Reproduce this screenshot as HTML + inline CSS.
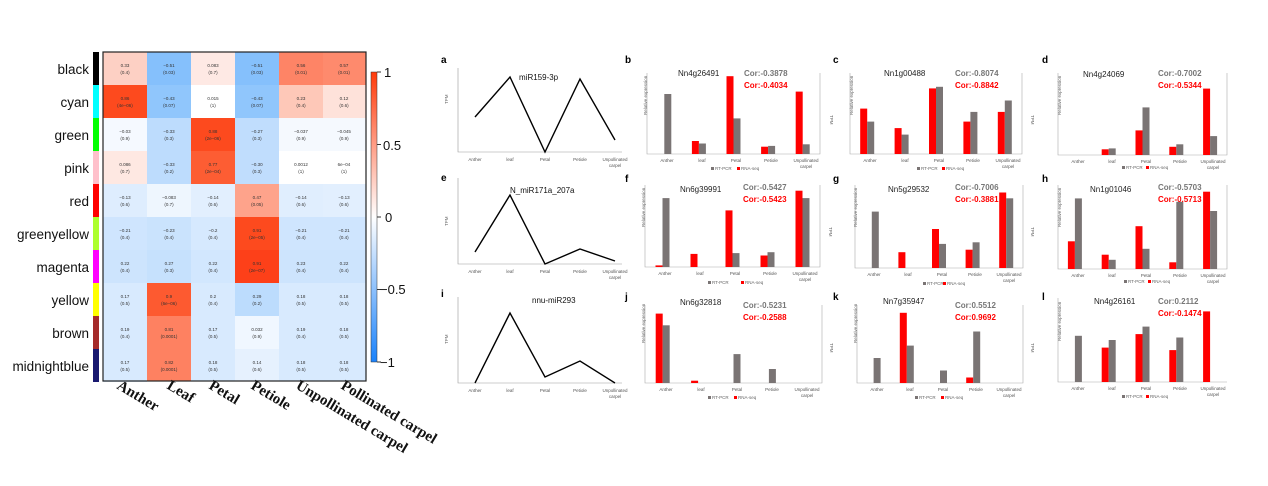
<!DOCTYPE html>
<html><head><meta charset="utf-8"><style>
body{margin:0;background:#fff}
svg{display:block;font-family:"Liberation Sans",sans-serif}
.t{font-size:4.5px;fill:#333;text-anchor:middle}
.tk{font-size:4.5px;fill:#666}
.gn{font-size:8px;fill:#222}
.cg{font-size:8px;fill:#777;font-weight:bold}
.cr{font-size:8px;fill:#f00;font-weight:bold}
.pl{font-size:10px;font-weight:bold}
.xl{font-size:4.5px;fill:#555;text-anchor:middle}
.R{fill:#ff0000}.G{fill:#7a7474}
.rl{font-size:13.5px;text-anchor:end;fill:#111}
.hx{font-family:"Liberation Serif",serif;font-weight:bold;font-size:15px;fill:#111}
</style></head><body>
<svg width="1268" height="486" viewBox="0 0 1268 486">
<defs><linearGradient id="cb" x1="0" y1="0" x2="0" y2="1">
<stop offset="0" stop-color="#ff3a0a"/><stop offset="0.5" stop-color="#ffffff"/><stop offset="1" stop-color="#1a82fb"/></linearGradient></defs>
<rect x="93" y="52" width="6" height="33" fill="#000"/>
<rect x="93" y="85" width="6" height="33" fill="#0ff"/>
<rect x="93" y="118" width="6" height="33" fill="#0f0"/>
<rect x="93" y="151" width="6" height="33" fill="#ffc0cb"/>
<rect x="93" y="184" width="6" height="33" fill="#f00"/>
<rect x="93" y="217" width="6" height="33" fill="#adff2f"/>
<rect x="93" y="250" width="6" height="33" fill="#f0f"/>
<rect x="93" y="283" width="6" height="33" fill="#ff0"/>
<rect x="93" y="316" width="6" height="33" fill="#a52a2a"/>
<rect x="93" y="349" width="6" height="33" fill="#191970"/>
<g class="rl">
<text x="89" y="74">black</text><text x="89" y="107">cyan</text><text x="89" y="140">green</text><text x="89" y="173">pink</text><text x="89" y="206">red</text><text x="89" y="239">greenyellow</text><text x="89" y="272">magenta</text><text x="89" y="305">yellow</text><text x="89" y="338">brown</text><text x="89" y="371">midnightblue</text>
</g>
<g>
<rect x="103" y="52" width="44" height="33" fill="#fdd0c4"/><rect x="147" y="52" width="44" height="33" fill="#85c0fc"/><rect x="191" y="52" width="44" height="33" fill="#fee9e4"/><rect x="235" y="52" width="44" height="33" fill="#85c0fc"/><rect x="279" y="52" width="44" height="33" fill="#fe8466"/><rect x="323" y="52" width="43" height="33" fill="#fe8a6d"/>
<rect x="103" y="85" width="44" height="33" fill="#fd4a1e"/><rect x="147" y="85" width="44" height="33" fill="#90c6fc"/><rect x="191" y="85" width="44" height="33" fill="#ffffff"/><rect x="235" y="85" width="44" height="33" fill="#90c6fc"/><rect x="279" y="85" width="44" height="33" fill="#fec8b8"/><rect x="323" y="85" width="43" height="33" fill="#fee2da"/>
<rect x="103" y="118" width="44" height="33" fill="#f5f9ff"/><rect x="147" y="118" width="44" height="33" fill="#bddcfd"/><rect x="191" y="118" width="44" height="33" fill="#fd4a1e"/><rect x="235" y="118" width="44" height="33" fill="#c0ddfd"/><rect x="279" y="118" width="44" height="33" fill="#f5f9fe"/><rect x="323" y="118" width="43" height="33" fill="#f5f9fe"/>
<rect x="103" y="151" width="44" height="33" fill="#fee8e2"/><rect x="147" y="151" width="44" height="33" fill="#bddcfd"/><rect x="191" y="151" width="44" height="33" fill="#fd5d33"/><rect x="235" y="151" width="44" height="33" fill="#c0ddfd"/><rect x="279" y="151" width="44" height="33" fill="#fff"/><rect x="323" y="151" width="43" height="33" fill="#fff"/>
<rect x="103" y="184" width="44" height="33" fill="#deedfe"/><rect x="147" y="184" width="44" height="33" fill="#eef6fe"/><rect x="191" y="184" width="44" height="33" fill="#e2effe"/><rect x="235" y="184" width="44" height="33" fill="#fea38b"/><rect x="279" y="184" width="44" height="33" fill="#e0eefe"/><rect x="323" y="184" width="43" height="33" fill="#e2effe"/>
<rect x="103" y="217" width="44" height="33" fill="#cfe5fe"/><rect x="147" y="217" width="44" height="33" fill="#cae3fd"/><rect x="191" y="217" width="44" height="33" fill="#d6e9fe"/><rect x="235" y="217" width="44" height="33" fill="#fd4a1e"/><rect x="279" y="217" width="44" height="33" fill="#cfe5fe"/><rect x="323" y="217" width="43" height="33" fill="#cfe5fe"/>
<rect x="103" y="250" width="44" height="33" fill="#cde4fd"/><rect x="147" y="250" width="44" height="33" fill="#c6e1fd"/><rect x="191" y="250" width="44" height="33" fill="#d2e7fe"/><rect x="235" y="250" width="44" height="33" fill="#fd4019"/><rect x="279" y="250" width="44" height="33" fill="#cde4fd"/><rect x="323" y="250" width="43" height="33" fill="#cde4fd"/>
<rect x="103" y="283" width="44" height="33" fill="#d8eafe"/><rect x="147" y="283" width="44" height="33" fill="#fd5a30"/><rect x="191" y="283" width="44" height="33" fill="#d8eafe"/><rect x="235" y="283" width="44" height="33" fill="#bcdcfd"/><rect x="279" y="283" width="44" height="33" fill="#d8eafe"/><rect x="323" y="283" width="43" height="33" fill="#d8eafe"/>
<rect x="103" y="316" width="44" height="33" fill="#d8eafe"/><rect x="147" y="316" width="44" height="33" fill="#fe8161"/><rect x="191" y="316" width="44" height="33" fill="#d8eafe"/><rect x="235" y="316" width="44" height="33" fill="#f0f7ff"/><rect x="279" y="316" width="44" height="33" fill="#d8eafe"/><rect x="323" y="316" width="43" height="33" fill="#d8eafe"/>
<rect x="103" y="349" width="44" height="33" fill="#d8eafe"/><rect x="147" y="349" width="44" height="32" fill="#fe8161"/><rect x="191" y="349" width="44" height="32" fill="#d8eafe"/><rect x="235" y="349" width="44" height="32" fill="#e6f1fe"/><rect x="279" y="349" width="44" height="32" fill="#d8eafe"/><rect x="323" y="349" width="43" height="32" fill="#d8eafe"/>
</g>
<rect x="103" y="52" width="263" height="329" fill="none" stroke="#222" stroke-width="1.2"/>
<g class="t">
<text x="125" y="67">0.33</text><text x="125" y="74">(0.4)</text><text x="169" y="67">−0.51</text><text x="169" y="74">(0.03)</text><text x="213" y="67">0.083</text><text x="213" y="74">(0.7)</text><text x="257" y="67">−0.51</text><text x="257" y="74">(0.03)</text><text x="301" y="67">0.56</text><text x="301" y="74">(0.01)</text><text x="344" y="67">0.57</text><text x="344" y="74">(0.01)</text>
<text x="125" y="100">0.86</text><text x="125" y="107">(4e−06)</text><text x="169" y="100">−0.43</text><text x="169" y="107">(0.07)</text><text x="213" y="100">0.015</text><text x="213" y="107">(1)</text><text x="257" y="100">−0.43</text><text x="257" y="107">(0.07)</text><text x="301" y="100">0.23</text><text x="301" y="107">(0.4)</text><text x="344" y="100">0.12</text><text x="344" y="107">(0.6)</text>
<text x="125" y="133">−0.03</text><text x="125" y="140">(0.9)</text><text x="169" y="133">−0.33</text><text x="169" y="140">(0.3)</text><text x="213" y="133">0.88</text><text x="213" y="140">(2e−06)</text><text x="257" y="133">−0.27</text><text x="257" y="140">(0.3)</text><text x="301" y="133">−0.037</text><text x="301" y="140">(0.9)</text><text x="344" y="133">−0.045</text><text x="344" y="140">(0.9)</text>
<text x="125" y="166">0.086</text><text x="125" y="173">(0.7)</text><text x="169" y="166">−0.33</text><text x="169" y="173">(0.2)</text><text x="213" y="166">0.77</text><text x="213" y="173">(2e−04)</text><text x="257" y="166">−0.30</text><text x="257" y="173">(0.3)</text><text x="301" y="166">0.0012</text><text x="301" y="173">(1)</text><text x="344" y="166">6e−04</text><text x="344" y="173">(1)</text>
<text x="125" y="199">−0.13</text><text x="125" y="206">(0.6)</text><text x="169" y="199">−0.083</text><text x="169" y="206">(0.7)</text><text x="213" y="199">−0.14</text><text x="213" y="206">(0.6)</text><text x="257" y="199">0.47</text><text x="257" y="206">(0.05)</text><text x="301" y="199">−0.14</text><text x="301" y="206">(0.6)</text><text x="344" y="199">−0.13</text><text x="344" y="206">(0.6)</text>
<text x="125" y="232">−0.21</text><text x="125" y="239">(0.4)</text><text x="169" y="232">−0.23</text><text x="169" y="239">(0.4)</text><text x="213" y="232">−0.2</text><text x="213" y="239">(0.4)</text><text x="257" y="232">0.91</text><text x="257" y="239">(2e−05)</text><text x="301" y="232">−0.21</text><text x="301" y="239">(0.4)</text><text x="344" y="232">−0.21</text><text x="344" y="239">(0.4)</text>
<text x="125" y="265">0.22</text><text x="125" y="272">(0.4)</text><text x="169" y="265">0.27</text><text x="169" y="272">(0.3)</text><text x="213" y="265">0.22</text><text x="213" y="272">(0.4)</text><text x="257" y="265">0.91</text><text x="257" y="272">(2e−07)</text><text x="301" y="265">0.23</text><text x="301" y="272">(0.4)</text><text x="344" y="265">0.22</text><text x="344" y="272">(0.4)</text>
<text x="125" y="298">0.17</text><text x="125" y="305">(0.5)</text><text x="169" y="298">0.9</text><text x="169" y="305">(6e−06)</text><text x="213" y="298">0.2</text><text x="213" y="305">(0.4)</text><text x="257" y="298">0.29</text><text x="257" y="305">(0.2)</text><text x="301" y="298">0.18</text><text x="301" y="305">(0.5)</text><text x="344" y="298">0.18</text><text x="344" y="305">(0.5)</text>
<text x="125" y="331">0.19</text><text x="125" y="338">(0.4)</text><text x="169" y="331">0.81</text><text x="169" y="338">(0.0001)</text><text x="213" y="331">0.17</text><text x="213" y="338">(0.5)</text><text x="257" y="331">0.032</text><text x="257" y="338">(0.9)</text><text x="301" y="331">0.19</text><text x="301" y="338">(0.4)</text><text x="344" y="331">0.18</text><text x="344" y="338">(0.5)</text>
<text x="125" y="364">0.17</text><text x="125" y="371">(0.5)</text><text x="169" y="364">0.82</text><text x="169" y="371">(0.0001)</text><text x="213" y="364">0.18</text><text x="213" y="371">(0.5)</text><text x="257" y="364">0.14</text><text x="257" y="371">(0.6)</text><text x="301" y="364">0.18</text><text x="301" y="371">(0.5)</text><text x="344" y="364">0.18</text><text x="344" y="371">(0.5)</text>
</g>
<rect x="371" y="72" width="6" height="290" fill="url(#cb)" stroke="#333" stroke-width="0.5"/>
<g stroke="#333"><line x1="377" y1="72" x2="381" y2="72"/><line x1="377" y1="144.5" x2="381" y2="144.5"/><line x1="377" y1="217" x2="381" y2="217"/><line x1="377" y1="289.5" x2="381" y2="289.5"/><line x1="377" y1="362" x2="381" y2="362"/></g>
<g style="font-size:13px" fill="#111"><text x="384" y="77">1</text><text x="383" y="150">0.5</text><text x="385" y="222">0</text><text x="380" y="294">−0.5</text><text x="380" y="367">−1</text></g>
<g class="hx">
<text transform="translate(116,388) rotate(31)">Anther</text>
<text transform="translate(166,388) rotate(31)">Leaf</text>
<text transform="translate(208,388) rotate(31)">Petal</text>
<text transform="translate(250,388) rotate(31)">Petiole</text>
<text transform="translate(295,388) rotate(31)">Unpollinated carpel</text>
<text transform="translate(340,388) rotate(31)">Pollinated carpel</text>
</g>

<g class="pl"><text x="441" y="63">a</text><text x="441" y="181">e</text><text x="441" y="297">i</text>
<text x="625" y="63">b</text><text x="833" y="63">c</text><text x="1042" y="63">d</text>
<text x="625" y="182">f</text><text x="833" y="182">g</text><text x="1042" y="182">h</text>
<text x="625" y="300">j</text><text x="833" y="300">k</text><text x="1042" y="300">l</text></g>
<g stroke="#999" stroke-width="0.6" fill="none">
<path d="M458,68 V152 H622"/><path d="M458,178 V264 H622"/><path d="M458,297 V383 H622"/>
</g>
<g stroke="#000" stroke-width="1.4" fill="none">
<polyline points="475,117 510,77 545,152 580,79 615,140"/>
<polyline points="475,252 510,195 545,264 580,249 615,261"/>
<polyline points="475,383 510,313 545,377 580,361 615,383"/>
</g>
<g style="font-size:8px" fill="#111"><text x="519" y="80">miR159-3p</text><text x="510" y="193">N_miR171a_207a</text><text x="532" y="303">nnu-miR293</text></g>
<g class="tk"><text x="444" y="100" transform="rotate(-90 448 100)">TPM</text><text x="444" y="222" transform="rotate(-90 448 222)">TPM</text><text x="444" y="340" transform="rotate(-90 448 340)">TPM</text></g>
<g class="xl">
<text x="475" y="161">Anther</text><text x="510" y="161">leaf</text><text x="545" y="161">Petal</text><text x="580" y="161">Petiole</text><text x="615" y="161">Unpollinated</text><text x="615" y="167">carpel</text>
<text x="475" y="273">Anther</text><text x="510" y="273">leaf</text><text x="545" y="273">Petal</text><text x="580" y="273">Petiole</text><text x="615" y="273">Unpollinated</text><text x="615" y="279">carpel</text>
<text x="475" y="392">Anther</text><text x="510" y="392">leaf</text><text x="545" y="392">Petal</text><text x="580" y="392">Petiole</text><text x="615" y="392">Unpollinated</text><text x="615" y="398">carpel</text>
</g>

<g stroke="#aaa" stroke-width="0.6" fill="none">
<path d="M647,73 V154 H820 V73"/><path d="M850,73 V154 H1022 V73"/><path d="M1058,73 V155 H1227 V73"/>
<path d="M645,185 V267 H820 V185"/><path d="M855,185 V268 H1023 V185"/><path d="M1058,185 V269 H1227 V185"/>
<path d="M645,305 V383 H822 V305"/><path d="M857,305 V383 H1023 V305"/><path d="M1058,298 V382 H1227"/>
</g>
<g class="R"><rect x="691.9" y="141" width="7" height="13"/><rect x="726.5" y="76.2" width="7" height="77.8"/><rect x="761.1" y="146.7" width="7" height="7.3"/><rect x="795.7" y="91.6" width="7" height="62.4"/></g>
<g class="G"><rect x="664.3" y="94" width="7" height="60"/><rect x="698.9" y="143.5" width="7" height="10.5"/><rect x="733.5" y="118.4" width="7" height="35.6"/><rect x="768.1" y="145.9" width="7" height="8.1"/><rect x="802.7" y="144.3" width="7" height="9.7"/></g>
<g class="R"><rect x="860.2" y="108.6" width="7" height="45.4"/><rect x="894.6" y="128.1" width="7" height="25.9"/><rect x="929" y="88.4" width="7" height="65.6"/><rect x="963.4" y="121.6" width="7" height="32.4"/><rect x="997.8" y="111.9" width="7" height="42.1"/></g>
<g class="G"><rect x="867.2" y="121.6" width="7" height="32.4"/><rect x="901.6" y="134.6" width="7" height="19.4"/><rect x="936" y="86.8" width="7" height="67.2"/><rect x="970.4" y="111.9" width="7" height="42.1"/><rect x="1004.8" y="100.5" width="7" height="53.5"/></g>
<g class="R"><rect x="1101.7" y="149.3" width="7" height="5.7"/><rect x="1135.5" y="130.4" width="7" height="24.6"/><rect x="1169.3" y="146.8" width="7" height="8.2"/><rect x="1203.1" y="88.6" width="7" height="66.4"/></g>
<g class="G"><rect x="1108.7" y="148.4" width="7" height="6.6"/><rect x="1142.5" y="107.4" width="7" height="47.6"/><rect x="1176.3" y="144.3" width="7" height="10.7"/><rect x="1210.1" y="136.1" width="7" height="18.9"/></g>
<g class="R"><rect x="655.5" y="265.4" width="7" height="1.6"/><rect x="690.5" y="253.9" width="7" height="13.1"/><rect x="725.5" y="210.4" width="7" height="56.6"/><rect x="760.5" y="255.5" width="7" height="11.5"/><rect x="795.5" y="190.7" width="7" height="76.3"/></g>
<g class="G"><rect x="662.5" y="198.1" width="7" height="68.9"/><rect x="732.5" y="253.1" width="7" height="13.9"/><rect x="767.5" y="252.2" width="7" height="14.8"/><rect x="802.5" y="198.1" width="7" height="68.9"/></g>
<g class="R"><rect x="898.4" y="252.2" width="7" height="15.8"/><rect x="932" y="229" width="7" height="39"/><rect x="965.6" y="249.7" width="7" height="18.3"/><rect x="999.2" y="192.5" width="7" height="75.5"/></g>
<g class="G"><rect x="871.8" y="211.6" width="7" height="56.4"/><rect x="939" y="243.9" width="7" height="24.1"/><rect x="972.6" y="242.3" width="7" height="25.7"/><rect x="1006.2" y="198.3" width="7" height="69.7"/></g>
<g class="R"><rect x="1067.9" y="241.3" width="7" height="27.7"/><rect x="1101.7" y="254.7" width="7" height="14.3"/><rect x="1135.5" y="226.2" width="7" height="42.8"/><rect x="1169.3" y="262.3" width="7" height="6.7"/><rect x="1203.1" y="191.7" width="7" height="77.3"/></g>
<g class="G"><rect x="1074.9" y="198.4" width="7" height="70.6"/><rect x="1108.7" y="259.8" width="7" height="9.2"/><rect x="1142.5" y="248.8" width="7" height="20.2"/><rect x="1176.3" y="201.8" width="7" height="67.2"/><rect x="1210.1" y="211" width="7" height="58"/></g>
<g class="R"><rect x="655.7" y="313.6" width="7" height="69.4"/><rect x="691.1" y="380.7" width="7" height="2.3"/></g>
<g class="G"><rect x="662.7" y="325.3" width="7" height="57.7"/><rect x="733.5" y="354.1" width="7" height="28.9"/><rect x="768.9" y="369" width="7" height="14"/></g>
<g class="R"><rect x="899.8" y="312.8" width="7" height="70.2"/><rect x="966.2" y="377.5" width="7" height="5.5"/></g>
<g class="G"><rect x="873.6" y="358" width="7" height="25"/><rect x="906.8" y="345.6" width="7" height="37.4"/><rect x="940" y="370.5" width="7" height="12.5"/><rect x="973.2" y="331.5" width="7" height="51.5"/></g>
<g class="R"><rect x="1101.7" y="347.6" width="7" height="34.4"/><rect x="1135.5" y="334.1" width="7" height="47.9"/><rect x="1169.3" y="350.1" width="7" height="31.9"/><rect x="1203.1" y="311.4" width="7" height="70.6"/></g>
<g class="G"><rect x="1074.9" y="335.8" width="7" height="46.2"/><rect x="1108.7" y="340" width="7" height="42"/><rect x="1142.5" y="326.6" width="7" height="55.4"/><rect x="1176.3" y="337.5" width="7" height="44.5"/></g>

<text class="gn" x="678" y="76">Nn4g26491</text><text class="cg" x="744" y="76">Cor:-0.3878</text><text class="cr" x="744" y="88">Cor:-0.4034</text>
<text class="gn" x="884" y="76">Nn1g00488</text><text class="cg" x="955" y="76">Cor:-0.8074</text><text class="cr" x="955" y="88">Cor:-0.8842</text>
<text class="gn" x="1083" y="77">Nn4g24069</text><text class="cg" x="1158" y="76">Cor:-0.7002</text><text class="cr" x="1158" y="88">Cor:-0.5344</text>
<text class="gn" x="680" y="192">Nn6g39991</text><text class="cg" x="743" y="190">Cor:-0.5427</text><text class="cr" x="743" y="202">Cor:-0.5423</text>
<text class="gn" x="888" y="192">Nn5g29532</text><text class="cg" x="955" y="190">Cor:-0.7006</text><text class="cr" x="955" y="202">Cor:-0.3881</text>
<text class="gn" x="1090" y="192">Nn1g01046</text><text class="cg" x="1158" y="190">Cor:-0.5703</text><text class="cr" x="1158" y="202">Cor:-0.5713</text>
<text class="gn" x="680" y="305">Nn6g32818</text><text class="cg" x="743" y="308">Cor:-0.5231</text><text class="cr" x="743" y="320">Cor:-0.2588</text>
<text class="gn" x="883" y="304">Nn7g35947</text><text class="cg" x="955" y="308">Cor:0.5512</text><text class="cr" x="955" y="320">Cor:0.9692</text>
<text class="gn" x="1094" y="304">Nn4g26161</text><text class="cg" x="1158" y="304">Cor:0.2112</text><text class="cr" x="1158" y="316">Cor:-0.1474</text>

<g class="xl">
<text x="667" y="162">Anther</text><text x="702" y="162">leaf</text><text x="736" y="162">Petal</text><text x="771" y="162">Petiole</text><text x="806" y="162">Unpollinated</text><text x="806" y="168">carpel</text>
<text x="870" y="162">Anther</text><text x="905" y="162">leaf</text><text x="939" y="162">Petal</text><text x="973" y="162">Petiole</text><text x="1008" y="162">Unpollinated</text><text x="1008" y="168">carpel</text>
<text x="1078" y="163">Anther</text><text x="1112" y="163">leaf</text><text x="1146" y="163">Petal</text><text x="1180" y="163">Petiole</text><text x="1213" y="163">Unpollinated</text><text x="1213" y="169">carpel</text>
<text x="665" y="275">Anther</text><text x="700" y="275">leaf</text><text x="735" y="275">Petal</text><text x="770" y="275">Petiole</text><text x="805" y="275">Unpollinated</text><text x="805" y="281">carpel</text>
<text x="874" y="276">Anther</text><text x="908" y="276">leaf</text><text x="942" y="276">Petal</text><text x="975" y="276">Petiole</text><text x="1009" y="276">Unpollinated</text><text x="1009" y="282">carpel</text>
<text x="1078" y="277">Anther</text><text x="1112" y="277">leaf</text><text x="1146" y="277">Petal</text><text x="1180" y="277">Petiole</text><text x="1213" y="277">Unpollinated</text><text x="1213" y="283">carpel</text>
<text x="666" y="391">Anther</text><text x="701" y="391">leaf</text><text x="737" y="391">Petal</text><text x="772" y="391">Petiole</text><text x="807" y="391">Unpollinated</text><text x="807" y="397">carpel</text>
<text x="877" y="391">Anther</text><text x="910" y="391">leaf</text><text x="943" y="391">Petal</text><text x="976" y="391">Petiole</text><text x="1009" y="391">Unpollinated</text><text x="1009" y="397">carpel</text>
<text x="1078" y="390">Anther</text><text x="1112" y="390">leaf</text><text x="1146" y="390">Petal</text><text x="1180" y="390">Petiole</text><text x="1213" y="390">Unpollinated</text><text x="1213" y="396">carpel</text>
</g>
<g class="tk">
<rect x="711" y="167" width="3" height="3" fill="#7a7474"/><text x="715" y="170">RT-PCR</text><rect x="737" y="167" width="3" height="3" fill="#f00"/><text x="741" y="170">RNA-seq</text>
<rect x="917" y="167" width="3" height="3" fill="#7a7474"/><text x="921" y="170">RT-PCR</text><rect x="942" y="167" width="3" height="3" fill="#f00"/><text x="946" y="170">RNA-seq</text>
<rect x="1122" y="166" width="3" height="3" fill="#7a7474"/><text x="1126" y="169">RT-PCR</text><rect x="1146" y="166" width="3" height="3" fill="#f00"/><text x="1150" y="169">RNA-seq</text>
<rect x="708" y="281" width="3" height="3" fill="#7a7474"/><text x="712" y="284">RT-PCR</text><rect x="741" y="281" width="3" height="3" fill="#f00"/><text x="745" y="284">RNA-seq</text>
<rect x="923" y="282" width="3" height="3" fill="#7a7474"/><text x="927" y="285">RT-PCR</text><rect x="943" y="282" width="3" height="3" fill="#f00"/><text x="947" y="285">RNA-seq</text>
<rect x="1124" y="280" width="3" height="3" fill="#7a7474"/><text x="1128" y="283">RT-PCR</text><rect x="1148" y="280" width="3" height="3" fill="#f00"/><text x="1152" y="283">RNA-seq</text>
<rect x="708" y="396" width="3" height="3" fill="#7a7474"/><text x="712" y="399">RT-PCR</text><rect x="734" y="396" width="3" height="3" fill="#f00"/><text x="738" y="399">RNA-seq</text>
<rect x="915" y="396" width="3" height="3" fill="#7a7474"/><text x="919" y="399">RT-PCR</text><rect x="941" y="396" width="3" height="3" fill="#f00"/><text x="945" y="399">RNA-seq</text>
<rect x="1122" y="395" width="3" height="3" fill="#7a7474"/><text x="1126" y="398">RT-PCR</text><rect x="1146" y="395" width="3" height="3" fill="#f00"/><text x="1150" y="398">RNA-seq</text>
<text x="632" y="130" transform="rotate(-90 632 115)">Relative expression</text>
<text x="838" y="130" transform="rotate(-90 838 115)">Relative expression</text>
<text x="1046" y="130" transform="rotate(-90 1046 115)">Relative expression</text>
<text x="630" y="242" transform="rotate(-90 630 227)">Relative expression</text>
<text x="842" y="242" transform="rotate(-90 842 227)">Relative expression</text>
<text x="1046" y="242" transform="rotate(-90 1046 227)">Relative expression</text>
<text x="630" y="358" transform="rotate(-90 630 343)">Relative expression</text>
<text x="842" y="358" transform="rotate(-90 842 343)">Relative expression</text>
<text x="1046" y="356" transform="rotate(-90 1046 341)">Relative expression</text>
<text x="833" y="118" transform="rotate(90 833 115)">TPM</text><text x="1034" y="118" transform="rotate(90 1034 115)">TPM</text>
<text x="832" y="230" transform="rotate(90 832 227)">TPM</text><text x="1034" y="230" transform="rotate(90 1034 227)">TPM</text>
<text x="833" y="346" transform="rotate(90 833 343)">TPM</text><text x="1034" y="346" transform="rotate(90 1034 343)">TPM</text>
</g>
</svg>
</body></html>
